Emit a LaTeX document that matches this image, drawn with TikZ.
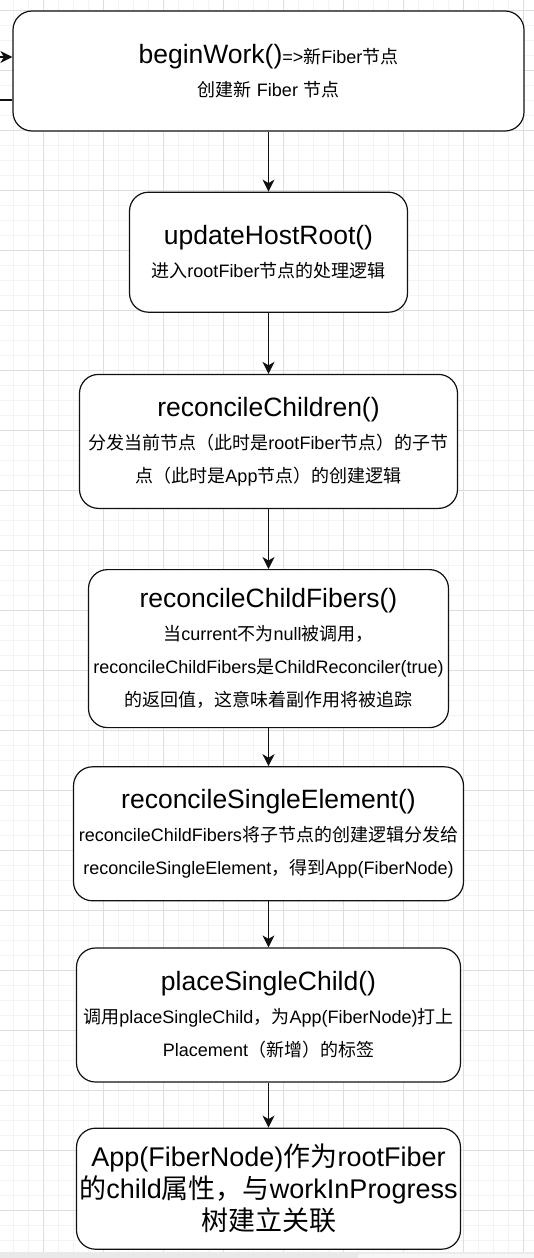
\documentclass[tikz,border=0pt]{standalone}
\usepackage{fontspec}
\setmainfont{Liberation Sans}
\newfontfamily\cjk{Noto Sans CJK SC}
\usepackage{tikz}
\usetikzlibrary{arrows.meta,positioning}
\definecolor{Ink}{HTML}{111111}
\definecolor{GridMinor}{HTML}{F3F3F3}
\definecolor{GridMajor}{HTML}{DEDEDE}
\definecolor{Band}{HTML}{E9E9E9}
\definecolor{BandLight}{HTML}{F6F6F6}
% switch to the CJK face for Han characters and full-width punctuation
\XeTeXinterchartokenstate=1
\newXeTeXintercharclass\hanclass
\newcount\hancode
\def\sethanrange#1#2{\hancode=#1 \loop\XeTeXcharclass\hancode=\hanclass
  \ifnum\hancode<#2 \advance\hancode by 1 \repeat}
\sethanrange{"3000}{"303F}
\sethanrange{"4E00}{"9FFF}
\sethanrange{"FF00}{"FFEF}
\XeTeXinterchartoks 0 \hanclass = {\cjk}
\XeTeXinterchartoks 4095 \hanclass = {\cjk}
\XeTeXinterchartoks \hanclass 0 = {\rmfamily}
\XeTeXinterchartoks \hanclass 4095 = {\rmfamily}
\newcommand\callfont{\fontsize{26.5}{33}\selectfont}

\begin{document}
\begin{tikzpicture}[x=1pt,y=-1pt,node distance=60pt,
    box/.style={draw=Ink,line width=1.2pt,rounded corners=19pt,fill=white,inner sep=0pt,
                align=center,font=\fontsize{18}{33}\selectfont},
    arr/.style={-{Stealth[length=12pt,width=12pt,inset=3.5pt]},line width=1.2pt,Ink},
    minorgrid/.style={GridMinor,line width=0.8pt},
    majorgrid/.style={GridMajor,line width=0.8pt}]
    \useasboundingbox (0,0) rectangle (534,1258);
    % canvas grid
    \foreach \gx in {13.3,28.3,...,530} \draw[minorgrid] (\gx,0) -- (\gx,1252);
    \foreach \gy in {10.7,25.7,...,1252} \draw[minorgrid] (0,\gy) -- (534,\gy);
    \foreach \gx in {43.3,103.3,...,530} \draw[majorgrid] (\gx,0) -- (\gx,1252);
    \foreach \gy in {10.7,70.7,...,1252} \draw[majorgrid] (0,\gy) -- (534,\gy);
    \fill[Band] (0,1252) rectangle (534,1258);
    \fill[BandLight,rounded corners=3pt] (358,1253.5) rectangle (545,1264);
    % steps
    \node[box,minimum width=511pt,minimum height=120pt] (begin) at (268.5,71)
        {{\callfont beginWork()}=>新Fiber节点\\创建新 Fiber 节点};
    \node[box,below=of begin,minimum width=278pt,minimum height=120pt] (hostroot)
        {{\callfont updateHostRoot()}\\进入rootFiber节点的处理逻辑};
    \node[box,below=61pt of hostroot,minimum width=378pt,minimum height=134pt] (children)
        {{\callfont reconcileChildren()}\\分发当前节点（此时是rootFiber节点）的子节\\点（此时是App节点）的创建逻辑};
    \node[box,below=of children,minimum width=360pt,minimum height=158pt] (childfibers)
        {{\callfont reconcileChildFibers()}\\当current不为null被调用，\\reconcileChildFibers是ChildReconciler(true)\\的返回值，这意味着副作用将被追踪};
    \node[box,below=38pt of childfibers,minimum width=390pt,minimum height=134pt] (singleel)
        {{\callfont reconcileSingleElement()}\\reconcileChildFibers将子节点的创建逻辑分发给\\reconcileSingleElement，得到App(FiberNode)};
    \node[box,below=46pt of singleel,minimum width=384pt,minimum height=134pt] (placechild)
        {{\callfont placeSingleChild()}\\调用placeSingleChild，为App(FiberNode)打上\\Placement（新增）的标签};
    \node[box,below=45pt of placechild,minimum width=384pt,minimum height=121pt,
          font=\fontsize{27}{32}\selectfont] (result)
        {App(FiberNode)作为rootFiber\\的child属性，与workInProgress\\树建立关联};
    % flow
    \coordinate (feedin) at (0,57);
    \coordinate (feedout) at (0,100);
    \draw[arr] (feedin) -- (feedin -| begin.west);
    \draw[line width=1.2pt,Ink] (begin.west |- feedout) -- (feedout);
    \draw[arr] (begin) -- (hostroot);
    \draw[arr] (hostroot) -- (children);
    \draw[arr] (children) -- (childfibers);
    \draw[arr] (childfibers) -- (singleel);
    \draw[arr] (singleel) -- (placechild);
    \draw[arr] (placechild) -- (result);
\end{tikzpicture}
\end{document}
